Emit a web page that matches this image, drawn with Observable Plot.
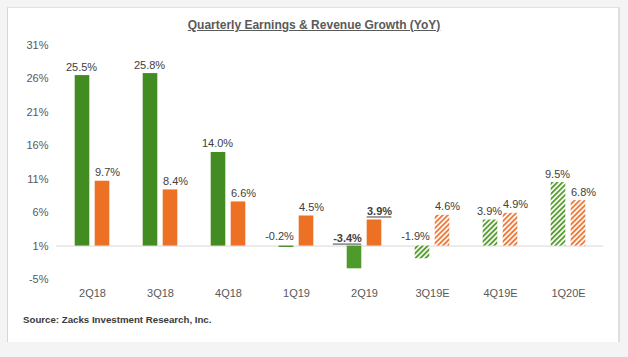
<!DOCTYPE html>
<html><head><meta charset="utf-8">
<script src="https://cdn.jsdelivr.net/npm/d3@7"></script>
<script src="https://cdn.jsdelivr.net/npm/@observablehq/plot@0.6"></script>
<style>
body{margin:0;background:#fff;}
#wrap{position:relative;width:628px;height:357px;overflow:hidden;background:#f4f4f4;font-family:Arial,"Liberation Sans",sans-serif;}
#panel{position:absolute;left:7px;top:7px;width:613px;height:335px;background:#fff;border-left:1px solid #d6d6d6;border-top:1px solid #e2e2e2;border-right:2px solid #dedede;box-sizing:border-box;}
#chart{position:absolute;left:0;top:0;}
#title{position:absolute;left:0;width:628px;top:18px;text-align:center;font:bold 12px Arial,"Liberation Sans",sans-serif;color:#5a5a5a;text-decoration:underline;}
#source{position:absolute;left:23px;top:314px;font:bold 9.7px Arial,"Liberation Sans",sans-serif;color:#3a3a3a;}
</style>
</head><body>
<svg width="0" height="0" style="position:absolute">
<defs>
<pattern id="hatchG" patternUnits="userSpaceOnUse" width="3.6" height="3.6" patternTransform="rotate(45)">
<rect width="3.6" height="3.6" fill="#ffffff"/><rect width="1.9" height="3.6" fill="#5a9e33"/>
</pattern>
<pattern id="hatchO" patternUnits="userSpaceOnUse" width="3.6" height="3.6" patternTransform="rotate(45)">
<rect width="3.6" height="3.6" fill="#ffffff"/><rect width="1.9" height="3.6" fill="#ee7a3a"/>
</pattern>
</defs>
</svg>
<div id="wrap">
<div id="panel"></div>
<div id="chart"></div>
<div id="title">Quarterly Earnings &amp; Revenue Growth (YoY)</div>
<div id="source">Source: Zacks Investment Research, Inc.</div>
</div>
<script>
const quarters = ["2Q18","3Q18","4Q18","1Q19","2Q19","3Q19E","4Q19E","1Q20E"];
const earnings = [25.5, 25.8, 14.0, -0.2, -3.4, -1.9, 3.9, 9.5];
const revenue  = [9.7, 8.4, 6.6, 4.5, 3.9, 4.6, 4.9, 6.8];
const yTicks = [-5, 0, 5, 10, 15, 20, 25, 30];
const yTickLabels = ["-5%", "1%", "6%", "11%", "16%", "21%", "26%", "31%"];
const highlight = "2Q19";

const rows = quarters.map((q, i) => ({q, e: earnings[i], r: revenue[i], est: q.endsWith("E"), hl: q === highlight}));
const hlRows = rows.filter(d => d.hl);
const fmt = v => v.toFixed(1) + "%";
const GREEN = "#438c21", GREEN_HL = "#4f9a2c", ORANGE = "#ec7125", LBL = "#404040";
const W = 628, ML = 56, MR = 25;
const inset = 26.7;
const bw = (W - ML - MR) / quarters.length;

// measure label widths for underlines
const ctx = document.createElement("canvas").getContext("2d");
ctx.font = "bold 11px Arial, 'Liberation Sans', sans-serif";
const wE = ctx.measureText(fmt(hlRows[0].e)).width;
const wR = ctx.measureText(fmt(hlRows[0].r)).width;
const offE = -17, offR = 15;
const ulE = {insetLeft: bw / 2 + offE - wE / 2, insetRight: bw / 2 - offE - wE / 2};
const ulR = {insetLeft: bw / 2 + offR - wR / 2, insetRight: bw / 2 - offR - wR / 2};

const chart = Plot.plot({
  width: W, height: 357,
  marginLeft: ML, marginRight: MR, marginTop: 45, marginBottom: 78,
  style: {background: "transparent", fontFamily: "Arial, 'Liberation Sans', sans-serif", fontSize: "11px", color: "#595959"},
  x: {domain: quarters, padding: 0},
  y: {domain: [-5, 30]},
  marks: [
    Plot.axisX({tickSize: 0, tickPadding: 10, label: null, fontSize: 11, fill: "#595959"}),
    Plot.axisY(yTicks, {tickSize: 0, tickPadding: 8, label: null, tickFormat: d => yTickLabels[yTicks.indexOf(d)], fontSize: 11, fill: "#595959"}),
    Plot.ruleY([0], {stroke: "#d9d9d9"}),
    Plot.barY(rows, {filter: d => !d.est, x: "q", y: "e", dx: -10, insetLeft: inset, insetRight: inset, fill: d => d.hl ? GREEN_HL : GREEN}),
    Plot.barY(rows, {filter: d => d.est, x: "q", y: "e", dx: -10, insetLeft: inset, insetRight: inset, fill: "url(#hatchG)"}),
    Plot.barY(rows, {filter: d => !d.est, x: "q", y: "r", dx: 10, insetLeft: inset, insetRight: inset, fill: ORANGE}),
    Plot.barY(rows, {filter: d => d.est, x: "q", y: "r", dx: 10, insetLeft: inset, insetRight: inset, fill: "url(#hatchO)"}),
    Plot.text(rows, {filter: d => !d.hl && d.e >= 0, x: "q", y: "e", text: d => fmt(d.e), dx: -11, dy: -5, lineAnchor: "bottom", fill: LBL, fontSize: 11}),
    Plot.text(rows, {filter: d => !d.hl && d.e < 0, x: "q", y: () => 0, text: d => fmt(d.e), dx: -17, dy: -6, lineAnchor: "bottom", fill: LBL, fontSize: 11}),
    Plot.text(rows, {filter: d => !d.hl, x: "q", y: "r", text: d => fmt(d.r), dx: 15, dy: -5, lineAnchor: "bottom", fill: LBL, fontSize: 11}),
    Plot.text(hlRows, {x: "q", y: d => Math.max(d.e, 0), text: d => fmt(d.e), dx: offE, dy: -4, lineAnchor: "bottom", fill: LBL, fontSize: 11, fontWeight: "bold"}),
    Plot.text(hlRows, {x: "q", y: "r", text: d => fmt(d.r), dx: offR, dy: -5, lineAnchor: "bottom", fill: LBL, fontSize: 11, fontWeight: "bold"}),
    Plot.ruleY(hlRows, {x1: "q", x2: "q", y: d => Math.max(d.e, 0), dy: -2, stroke: LBL, strokeWidth: 1, ...ulE}),
    Plot.ruleY(hlRows, {x1: "q", x2: "q", y: "r", dy: -3, stroke: LBL, strokeWidth: 1, ...ulR})
  ]
});
document.getElementById("chart").appendChild(chart);
</script>
</body></html>
